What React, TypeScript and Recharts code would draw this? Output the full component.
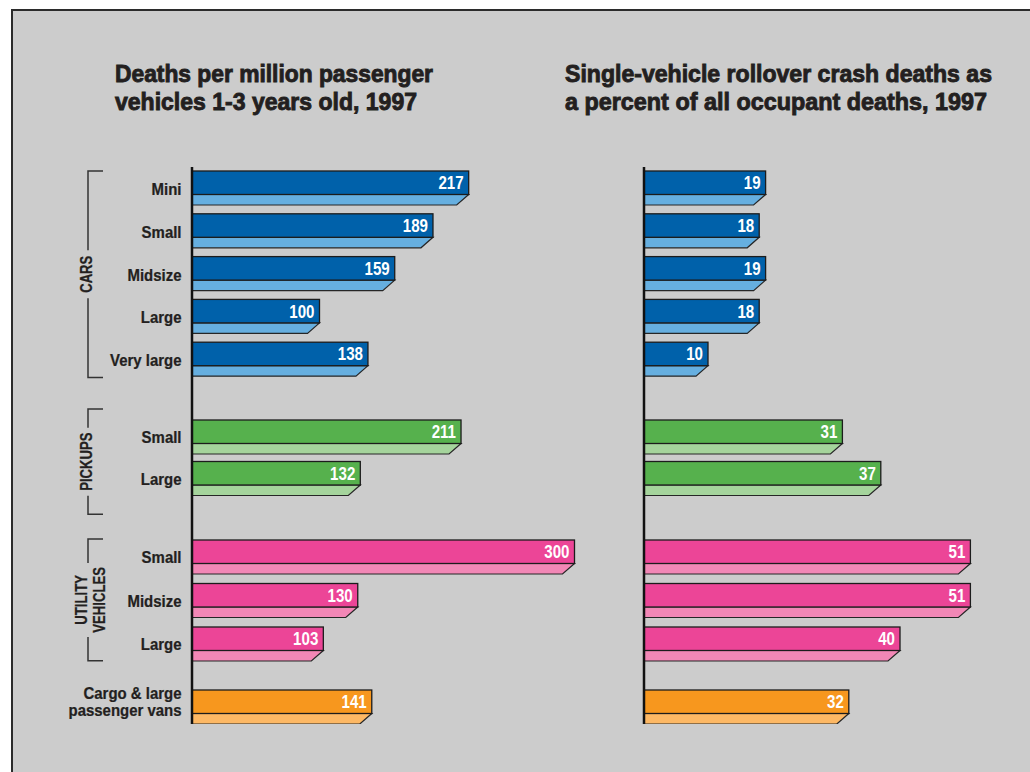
import React from "react";
import { BarChart, Bar, XAxis, YAxis, Customized } from "recharts";

// ---- data ----
const carSizes = ["Mini", "Small", "Midsize", "Large", "Very large"];
const carDeathRates = [217, 189, 159, 100, 138];
const carRolloverShares = [19, 18, 19, 18, 10];

const pickupSizes = ["Small", "Large"];
const pickupDeathRates = [211, 132];
const pickupRolloverShares = [31, 37];

const suvSizes = ["Small", "Midsize", "Large"];
const suvDeathRates = [300, 130, 103];
const suvRolloverShares = [51, 51, 40];

const vanLabels = ["Cargo & large\npassenger vans"];
const vanDeathRates = [141];
const vanRolloverShares = [32];

const leftTitle = ["Deaths per million passenger", "vehicles 1-3 years old, 1997"];
const rightTitle = ["Single-vehicle rollover crash deaths as", "a percent of all occupant deaths, 1997"];

// Liberation Sans squeezed horizontally stands in for a condensed Helvetica
const FONT = "'Liberation Sans', Arial, sans-serif";
const INK = "#231f20";
const UNIT = 34; // bar + its lower face
const MAIN_H = 23.5;

// group layout (vertical stacking of one small chart per vehicle type)
const groups = [
    {
        labels: carSizes, deaths: carDeathRates, rollover: carRolloverShares,
        name: ["CARS"], dark: "#0061aa", light: "#66afe0",
        top: 167, height: 214, pitch: 43, padTop: 0, padBottom: 0,
        bracketExt: [0, 0], gapHalf: 24,
    },
    {
        labels: pickupSizes, deaths: pickupDeathRates, rollover: pickupRolloverShares,
        name: ["PICKUPS"], dark: "#56b14d", light: "#a5d49c",
        top: 381, height: 139, pitch: 41.5, padTop: 35, padBottom: 21,
        bracketExt: [10, 19], gapHalf: 34,
    },
    {
        labels: suvSizes, deaths: suvDeathRates, rollover: suvRolloverShares,
        name: ["UTILITY", "VEHICLES"], dark: "#ec4597", light: "#f287b6",
        top: 520, height: 146, pitch: 43.5, padTop: 15, padBottom: 0.5,
        bracketExt: [0, 0], gapHalf: 37,
    },
    {
        labels: vanLabels, deaths: vanDeathRates, rollover: vanRolloverShares,
        name: [], dark: "#f7971e", light: "#fdb864",
        top: 666, height: 58, pitch: 35, padTop: 23, padBottom: 0,
        bracketExt: [0, 0], gapHalf: 0,
    },
];

const makeShape = (dark: string, light: string) => (props: any) => {
    const { x, y, width, height, payload } = props;
    if (!width || width <= 0) return null;
    const yb = y + MAIN_H;
    const s = Math.min(12, width);
    const tx = x + width - 5;
    const ty = y + MAIN_H / 2 + 6.5;
    return (
        <g>
            <path
                d={`M${x},${yb} H${x + width} L${x + width - s},${y + height} H${x} Z`}
                fill={light}
                stroke="#262626"
                strokeWidth={1.2}
            />
            <rect x={x} y={y} width={width} height={MAIN_H} fill={dark} stroke="#1c1c1c" strokeWidth={1.3} />
            <text
                transform={`translate(${tx},${ty}) scale(0.84,1)`}
                textAnchor="end"
                fill="#ffffff"
                fontSize={18}
                fontWeight="bold"
                fontFamily={FONT}
            >
                {payload.value}
            </text>
        </g>
    );
};

const CategoryTick = ({ y, payload, labelX }: any) => {
    const lines = String(payload.value).split("\n");
    const first = lines.length > 1 ? -7.5 : 6.5;
    return (
        <g>
            {lines.map((ln, i) => (
                <text
                    key={i}
                    transform={`translate(${labelX},${y + first + i * 17}) scale(0.88,1)`}
                    textAnchor="end"
                    fill={INK}
                    stroke={INK}
                    strokeWidth={0.25}
                    fontSize={17}
                    fontWeight="bold"
                    fontFamily={FONT}
                >
                    {ln}
                </text>
            ))}
        </g>
    );
};

const Bracket = ({ group, lineX }: any) => {
    const off = (group.pitch - UNIT) / 2;
    const top = group.padTop + Math.floor(off) - group.bracketExt[0];
    const bottom = group.padTop + group.labels.length * group.pitch - off + group.bracketExt[1];
    const mid = (top + bottom) / 2;
    const g0 = mid - group.gapHalf;
    const g1 = mid + group.gapHalf;
    const n = group.name.length;
    return (
        <g>
            <path
                d={`M${lineX + 15},${top} H${lineX} V${g0} M${lineX},${g1} V${bottom} H${lineX + 15}`}
                fill="none"
                stroke="#333"
                strokeWidth={1.5}
            />
            {group.name.map((t: string, i: number) => {
                const cx = lineX - 1 + (n > 1 ? 3.5 : 0) + (i - (n - 1) / 2) * 17.6;
                return (
                    <text
                        key={t}
                        transform={`translate(${cx},${mid}) rotate(-90) scale(0.82,1)`}
                        textAnchor="middle"
                        dominantBaseline="central"
                        fill={INK}
                        stroke={INK}
                        strokeWidth={0.25}
                        fontSize={16}
                        fontWeight="bold"
                        fontFamily={FONT}
                    >
                        {t}
                    </text>
                );
            })}
        </g>
    );
};

function GroupChart({ group, field, left, axisWidth, plotWidth, domain, showLabels }: any) {
    const data = group.labels.map((label: string, i: number) => ({ label, value: group[field][i] }));
    return (
        <div style={{ position: "absolute", left, top: group.top }}>
            <BarChart
                layout="vertical"
                width={axisWidth + plotWidth}
                height={group.height}
                data={data}
                margin={{ top: 0, right: 0, bottom: 0, left: 0 }}
                barSize={UNIT}
            >
                <XAxis type="number" domain={domain} hide />
                <YAxis
                    type="category"
                    dataKey="label"
                    width={axisWidth}
                    padding={{ top: group.padTop, bottom: group.padBottom }}
                    axisLine={{ stroke: "#111", strokeWidth: 2.5 }}
                    tickLine={false}
                    interval={0}
                    tick={showLabels ? <CategoryTick labelX={axisWidth - 10.5} /> : false}
                />
                <Bar dataKey="value" isAnimationActive={false} shape={makeShape(group.dark, group.light)} />
                {showLabels && group.name.length > 0 ? (
                    <Customized component={<Bracket group={group} lineX={88} />} />
                ) : null}
            </BarChart>
        </div>
    );
}

function Title({ lines, x, widths }: { lines: string[]; x: number; widths: number[] }) {
    return (
        <>
            {lines.map((ln, i) => (
                <text
                    key={i}
                    x={x}
                    y={82 + i * 28}
                    textLength={widths[i]}
                    lengthAdjust="spacingAndGlyphs"
                    fill={INK}
                    stroke={INK}
                    strokeWidth={0.9}
                    fontSize={24}
                    fontWeight="bold"
                    fontFamily={FONT}
                >
                    {ln}
                </text>
            ))}
        </>
    );
}

export default function App() {
    return (
        <div
            style={{
                position: "absolute",
                left: 0,
                top: 0,
                width: 1030,
                height: 772,
                background: "#ffffff",
                overflow: "hidden",
            }}
        >
            <div
                style={{
                    position: "absolute",
                    left: 11,
                    top: 9,
                    width: 1030,
                    height: 780,
                    background: "#cccccc",
                    borderTop: "2px solid #2b2b2b",
                    borderLeft: "2px solid #2b2b2b",
                }}
            />
            <svg style={{ position: "absolute", left: 0, top: 0 }} width={1030} height={140}>
                <Title lines={leftTitle} x={115} widths={[318, 302]} />
                <Title lines={rightTitle} x={565} widths={[427, 422]} />
            </svg>
            {groups.map((g, i) => (
                <GroupChart
                    key={"l" + i}
                    group={g}
                    field="deaths"
                    left={0}
                    axisWidth={192}
                    plotWidth={408}
                    domain={[0, 320]}
                    showLabels
                />
            ))}
            {groups.map((g, i) => (
                <GroupChart
                    key={"r" + i}
                    group={g}
                    field="rollover"
                    left={640}
                    axisWidth={4}
                    plotWidth={384}
                    domain={[0, 60]}
                    showLabels={false}
                />
            ))}
        </div>
    );
}
